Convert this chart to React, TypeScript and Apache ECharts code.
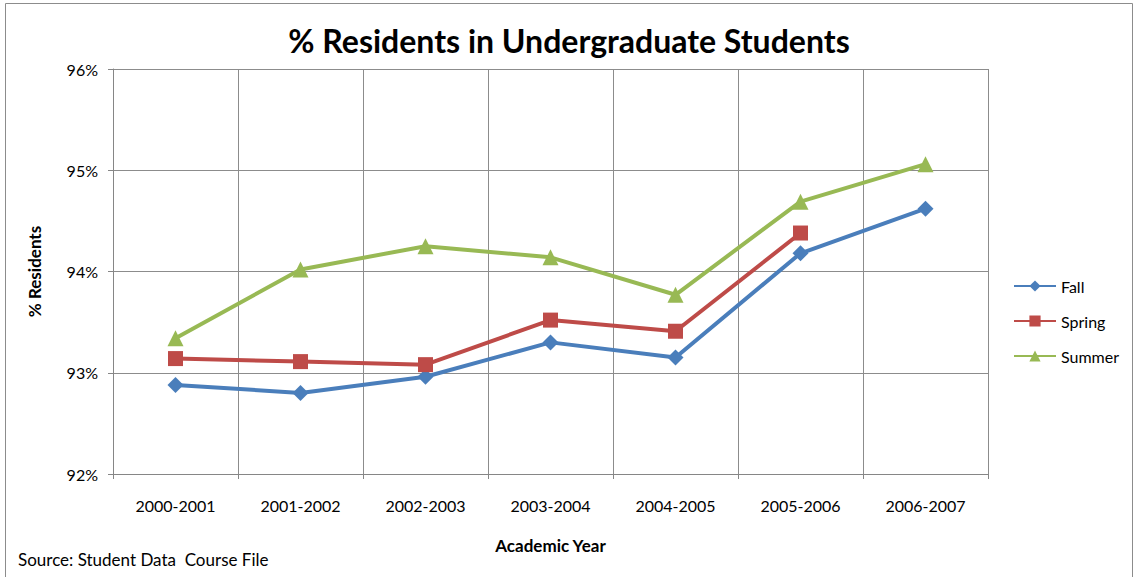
import React, { useEffect, useRef } from "react";
import * as echarts from "echarts";

const categories = ["2000-2001", "2001-2002", "2002-2003", "2003-2004", "2004-2005", "2005-2006", "2006-2007"];
const fall = [92.88, 92.8, 92.96, 93.3, 93.15, 94.18, 94.62];
const spring: (number | null)[] = [93.14, 93.11, 93.08, 93.52, 93.41, 94.38, null];
const summer = [93.34, 94.02, 94.25, 94.14, 93.77, 94.69, 95.06];
const yTicks = { min: 92, max: 96, interval: 1 };

const FONT = "Lato, 'Noto Sans', sans-serif";

export default function App() {
  const ref = useRef<HTMLDivElement>(null);
  useEffect(() => {
    document.body.style.margin = "0";
    const chart = echarts.init(ref.current!, null, { renderer: "svg" });
    const mk = (name: string, data: (number | null)[], color: string, symbol: string, size: number) => ({
      name,
      type: "line",
      data,
      symbol,
      symbolSize: size,
      showAllSymbol: true,
      connectNulls: false,
      lineStyle: { color, width: 4 },
      itemStyle: { color },
    });
    chart.setOption({
      animation: false,
      backgroundColor: "#ffffff",
      textStyle: { fontFamily: FONT },
      title: {
        text: "% Residents in Undergraduate Students",
        left: "center",
        top: 19,
        textStyle: { fontFamily: FONT, fontSize: 32, fontWeight: "bold", color: "#000" },
      },
      legend: {
        orient: "vertical",
        left: 1008,
        top: 273,
        itemGap: 19,
        itemWidth: 42,
        itemHeight: 14,
        textStyle: { fontFamily: FONT, fontSize: 16, color: "#000" },
        data: ["Fall", "Spring", "Summer"],
      },
      grid: { left: 113, right: 150, top: 69, bottom: 103 },
      xAxis: {
        type: "category",
        data: categories,
        boundaryGap: true,
        name: "Academic Year",
        nameLocation: "middle",
        nameGap: 63,
        nameTextStyle: { fontFamily: FONT, fontSize: 17, fontWeight: "bold", color: "#000" },
        axisLine: { lineStyle: { color: "#868686", width: 1 } },
        axisTick: { show: true, length: 5, lineStyle: { color: "#868686" } },
        axisLabel: { fontFamily: FONT, fontSize: 16, color: "#000", margin: 23 },
        splitLine: { show: true, lineStyle: { color: "#8c8c8c", width: 1 } },
      },
      yAxis: {
        type: "value",
        min: yTicks.min,
        max: yTicks.max,
        interval: yTicks.interval,
        name: "% Residents",
        nameLocation: "middle",
        nameGap: 70,
        nameTextStyle: { fontFamily: FONT, fontSize: 17, fontWeight: "bold", color: "#000" },
        axisLine: { show: true, lineStyle: { color: "#868686", width: 1 } },
        axisTick: { show: true, length: 5, lineStyle: { color: "#868686" } },
        axisLabel: { formatter: "{value}%", fontFamily: FONT, fontSize: 16, color: "#000", margin: 15 },
        splitLine: { show: true, lineStyle: { color: "#8c8c8c", width: 1 } },
      },
      graphic: [
        {
          type: "rect",
          shape: { x: 5.5, y: 3.5, width: 1127, height: 600 },
          style: { fill: "none", stroke: "#8c8c8c", lineWidth: 1 },
          silent: true,
          z: -1,
        },
        {
          type: "text",
          left: 18,
          top: 551,
          style: { text: "Source: Student Data  Course File", fontFamily: FONT, fontSize: 17, fill: "#000" },
        },
      ],
      series: [
        mk("Fall", fall, "#4a7ebb", "diamond", 16),
        mk("Spring", spring, "#be4b48", "rect", 15),
        mk("Summer", summer, "#98b954", "triangle", 16),
      ],
    });
    return () => chart.dispose();
  }, []);
  return <div ref={ref} style={{ width: 1138, height: 577 }} />;
}
